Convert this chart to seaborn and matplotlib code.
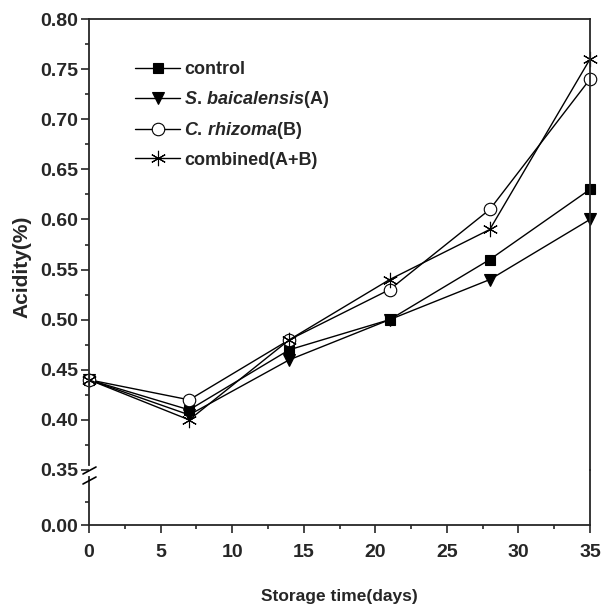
import numpy as np
import pandas as pd
import matplotlib
matplotlib.use("Agg")
import matplotlib.pyplot as plt
import seaborn as sns
from matplotlib.ticker import MultipleLocator, FixedLocator

# ------------ data -----------
days = [0, 7, 14, 21, 28, 35]
control = [0.44, 0.41, 0.47, 0.50, 0.56, 0.63]
s_baicalensis = [0.44, 0.405, 0.46, 0.50, 0.54, 0.60]
c_rhizoma = [0.44, 0.42, 0.48, 0.53, 0.61, 0.74]
combined = [0.44, 0.40, 0.48, 0.54, 0.59, 0.76]

labels = ["control",
          r"$\it{S.\/baicalensis}$(A)",
          r"$\it{C.\/rhizoma}$(B)",
          "combined(A+B)"]

# ------------ style -----------
sns.set_style("ticks")
plt.rcParams["font.family"] = ["Liberation Sans", "DejaVu Sans"]
plt.rcParams["font.weight"] = "bold"
plt.rcParams["mathtext.fontset"] = "custom"
plt.rcParams["mathtext.it"] = "Liberation Sans:italic:bold"
plt.rcParams["mathtext.bf"] = "Liberation Sans:bold"
plt.rcParams["mathtext.rm"] = "Liberation Sans:bold"

fig = plt.figure(figsize=(6.03, 6.07), dpi=100)
W, H = 603, 607
left, right = 89, 590
ax = fig.add_axes([left / W, (H - 470) / H, (right - left) / W, (470 - 19) / H])
axb = fig.add_axes([left / W, (H - 525) / H, (right - left) / W, (525 - 470) / H])

# ------------ lines -----------
df = pd.DataFrame({"day": days * 4,
                   "acidity": control + s_baicalensis + c_rhizoma + combined,
                   "group": sum([[l] * len(days) for l in labels], [])})

styles = {
    labels[0]: dict(marker="s", markersize=7, markerfacecolor="black"),
    labels[1]: dict(marker="v", markersize=8, markerfacecolor="black"),
    labels[2]: dict(marker="o", markersize=9, markerfacecolor="white"),
    labels[3]: dict(marker=(6, 2, 0), markersize=11, markerfacecolor="black"),
}
for lab in labels:
    sub = df[df["group"] == lab]
    sns.lineplot(data=sub, x="day", y="acidity", ax=ax, color="black",
                 linewidth=1.0, markeredgecolor="black", markeredgewidth=0.8,
                 label=lab, clip_on=False, **styles[lab])

# ------------ axes -----------
ax.set_xlim(0, 35)
ax.set_ylim(0.35, 0.80)
axb.set_xlim(0, 35)
axb.set_ylim(0, 0.055)

ax.yaxis.set_major_locator(MultipleLocator(0.05))
ax.yaxis.set_minor_locator(MultipleLocator(0.025))
ax.set_yticklabels([f"{v:.2f}" for v in ax.get_yticks()])
ax.set_xticks([])
ax.spines["bottom"].set_visible(False)
ax.spines["left"].set_bounds(0.355, 0.80)
ax.tick_params(axis="y", which="major", direction="out", length=6, width=1.2,
               labelsize=14, pad=2)
ax.tick_params(axis="y", which="minor", direction="out", length=3, width=1.2)
ax.tick_params(axis="x", which="both", length=0)

axb.yaxis.set_major_locator(FixedLocator([0.0]))
axb.yaxis.set_minor_locator(FixedLocator([0.023]))
axb.set_yticklabels(["0.00"])
axb.xaxis.set_major_locator(MultipleLocator(5))
axb.xaxis.set_minor_locator(MultipleLocator(2.5))
axb.spines["top"].set_visible(False)
axb.spines["left"].set_bounds(0, 0.048)
axb.tick_params(axis="both", which="major", direction="out", length=6, width=1.2,
                labelsize=14, pad=2)
axb.tick_params(axis="x", which="major", pad=8)
axb.tick_params(axis="both", which="minor", direction="out", length=3, width=1.2)
axb.set_xlabel("Storage time(days)", fontsize=12.5, fontweight="bold", labelpad=20)
axb.set_ylabel("")
axb.patch.set_alpha(0)

for a in (ax, axb):
    for s in a.spines.values():
        s.set_linewidth(1.3)

ax.set_xlabel("")
ax.set_ylabel("")
fig.text(22 / W, (H - 267) / H, "Acidity(%)", rotation=90, fontsize=15,
         fontweight="bold", ha="center", va="center")

# break marks
fig.add_artist(plt.Line2D([83 / W, 96 / W], [(H - 474) / H, (H - 467) / H],
                          color="black", lw=1.2))
fig.add_artist(plt.Line2D([83 / W, 96 / W], [(H - 484) / H, (H - 477) / H],
                          color="black", lw=1.2))

leg = ax.legend(loc="upper left", bbox_to_anchor=(0.078, 0.922), frameon=False,
                fontsize=13, handlelength=2.5, labelspacing=0.58,
                handletextpad=0.2, borderaxespad=0)

fig.savefig("out.png", dpi=100)
